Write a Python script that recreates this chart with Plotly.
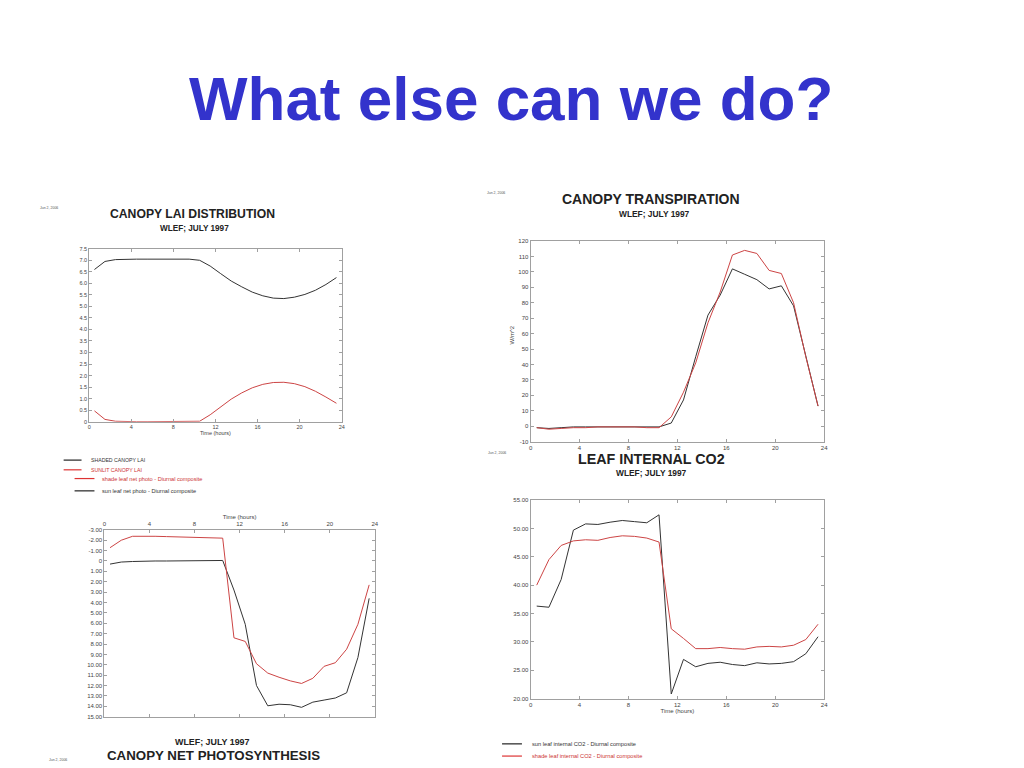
import plotly.graph_objects as go

W, H = 1024, 768

# ---------------- data ----------------
hours = [0.5, 1.5, 2.5, 3.5, 4.5, 5.5, 6.5, 7.5, 8.5, 9.5, 10.5, 11.5,
         12.5, 13.5, 14.5, 15.5, 16.5, 17.5, 18.5, 19.5, 20.5, 21.5, 22.5, 23.5]

lai_shaded = [6.60, 6.95, 7.03, 7.05, 7.05, 7.05, 7.05, 7.05, 7.05, 7.05, 7.00, 6.75,
              6.42, 6.10, 5.85, 5.62, 5.46, 5.36, 5.34, 5.40, 5.52, 5.70, 5.95, 6.25]
lai_sunlit = [0.47, 0.10, 0.02, 0.00, 0.00, 0.00, 0.00, 0.00, 0.00, 0.00, 0.02, 0.30,
              0.65, 0.98, 1.25, 1.47, 1.62, 1.70, 1.71, 1.65, 1.52, 1.32, 1.07, 0.80]

transp_black = [-1.0, -1.5, -1.0, -0.5, -0.5, -0.5, -0.5, -0.5, -0.5, -0.5, -0.5, 2.0,
                17.0, 45.0, 72.0, 85.0, 102.0, 98.5, 95.0, 89.0, 91.0, 78.0, 45.0, 13.0]
transp_red = [-1.0, -2.0, -1.5, -1.0, -1.0, -0.5, -0.5, -0.5, -0.5, -1.0, -1.0, 6.0,
              22.0, 41.0, 67.0, 87.0, 111.0, 114.0, 112.0, 101.0, 99.0, 80.0, 45.0, 13.0]

co2_sun = [36.3, 36.1, 41.0, 49.7, 50.8, 50.7, 51.1, 51.4, 51.2, 51.0, 52.4, 20.8,
           26.9, 25.6, 26.2, 26.4, 26.0, 25.8, 26.3, 26.1, 26.2, 26.5, 27.9, 30.9]
co2_shade = [40.0, 44.5, 47.0, 47.8, 48.0, 47.9, 48.4, 48.7, 48.6, 48.3, 47.6, 32.3,
             30.6, 28.8, 28.8, 29.0, 28.8, 28.7, 29.1, 29.2, 29.1, 29.4, 30.4, 33.1]

photo_sun = [0.3, 0.1, 0.05, 0.0, 0.0, 0.0, 0.0, 0.0, 0.0, 0.0, -0.05, 2.8,
             6.1, 12.0, 13.95, 13.8, 13.85, 14.1, 13.6, 13.4, 13.2, 12.7, 9.3, 3.6]
photo_shade = [-1.28, -2.0, -2.38, -2.4, -2.38, -2.35, -2.32, -2.3, -2.27, -2.24, -2.2, 7.4,
               7.75, 9.9, 10.8, 11.2, 11.55, 11.8, 11.3, 10.15, 9.8, 8.5, 6.1, 2.3]

x_ticks = [0, 4, 8, 12, 16, 20, 24]
x_labels = ["0", "4", "8", "12", "16", "20", "24"]
lai_ticks = [0, 0.5, 1.0, 1.5, 2.0, 2.5, 3.0, 3.5, 4.0, 4.5, 5.0, 5.5, 6.0, 6.5, 7.0, 7.5]
lai_labels = ["0", "0.5", "1.0", "1.5", "2.0", "2.5", "3.0", "3.5", "4.0", "4.5",
              "5.0", "5.5", "6.0", "6.5", "7.0", "7.5"]
tr_ticks = [-10, 0, 10, 20, 30, 40, 50, 60, 70, 80, 90, 100, 110, 120]
tr_labels = ["-10", "0", "10", "20", "30", "40", "50", "60", "70", "80", "90",
             "100", "110", "120"]
co2_ticks = [20, 25, 30, 35, 40, 45, 50, 55]
co2_labels = ["20.00", "25.00", "30.00", "35.00", "40.00", "45.00", "50.00", "55.00"]
ph_ticks = [-3, -2, -1, 0, 1, 2, 3, 4, 5, 6, 7, 8, 9, 10, 11, 12, 13, 14, 15]
ph_labels = ["-3.00", "-2.00", "-1.00", "0", "1.00", "2.00", "3.00", "4.00", "5.00",
             "6.00", "7.00", "8.00", "9.00", "10.00", "11.00", "12.00", "13.00",
             "14.00", "15.00"]

BLACK = "#333333"
RED = "#cc4444"
FONT = "Liberation Sans, Arial, sans-serif"


def fx(px):
    return px / W


def fy(py):
    return 1 - py / H


def axis(dom, rng, tv, tt, size, **kw):
    d = dict(domain=dom, range=rng, tickvals=tv, ticktext=tt,
             showline=True, linecolor="#a0a0a0", linewidth=1, mirror="ticks",
             ticks="inside", ticklen=3, tickwidth=1, tickcolor="#a0a0a0",
             showgrid=False, zeroline=False, fixedrange=True,
             tickfont=dict(family=FONT, size=size, color="#444444"))
    d.update(kw)
    return d


fig = go.Figure()


def line(x, y, color, xa, ya, name):
    fig.add_trace(go.Scatter(x=x, y=y, mode="lines", name=name,
                             line=dict(color=color, width=1),
                             xaxis=xa, yaxis=ya, showlegend=False, hoverinfo="skip"))


line(hours, lai_shaded, BLACK, "x", "y", "SHADED CANOPY LAI")
line(hours, lai_sunlit, RED, "x", "y", "SUNLIT CANOPY LAI")
line(hours, transp_black, BLACK, "x2", "y2", "transpiration (black)")
line(hours, transp_red, RED, "x2", "y2", "transpiration (red)")
line(hours, co2_sun, BLACK, "x3", "y3", "sun leaf internal CO2 - Diurnal composite")
line(hours, co2_shade, RED, "x3", "y3", "shade leaf internal CO2 - Diurnal composite")
line(hours, photo_sun, BLACK, "x4", "y4", "sun leaf net photo - Diurnal composite")
line(hours, photo_shade, RED, "x4", "y4", "shade leaf net photo - Diurnal composite")

# panel pixel boxes
p1 = (87.7, 341.7, 247.7, 422.0)
p2 = (531.7, 827.0, 240.0, 442.0)
p3 = (531.7, 827.0, 501.0, 701.0)
p4 = (103.0, 375.0, 531.0, 719.3)

fig.update_layout(
    width=W, height=H, margin=dict(l=0, r=0, t=0, b=0),
    paper_bgcolor="white", plot_bgcolor="white", showlegend=False,
    xaxis=axis([fx(p1[0]), fx(p1[1])], [0, 24], x_ticks, x_labels, 5.5,
               anchor="y", title=dict(text="Time (hours)", standoff=1,
                                      font=dict(family=FONT, size=5.5, color="#444"))),
    yaxis=axis([fy(p1[3]), fy(p1[2])], [0, 7.5], lai_ticks, lai_labels, 5.5, anchor="x"),
    xaxis2=axis([fx(p2[0]), fx(p2[1])], [0, 24], x_ticks, x_labels, 6, anchor="y2"),
    yaxis2=axis([fy(p2[3]), fy(p2[2])], [-10, 120], tr_ticks, tr_labels, 6, anchor="x2"),
    xaxis3=axis([fx(p3[0]), fx(p3[1])], [0, 24], x_ticks, x_labels, 6,
                anchor="y3", title=dict(text="Time (hours)", standoff=1,
                                        font=dict(family=FONT, size=6, color="#444"))),
    yaxis3=axis([fy(p3[3]), fy(p3[2])], [20, 55], co2_ticks, co2_labels, 6, anchor="x3"),
    xaxis4=axis([fx(p4[0]), fx(p4[1])], [0, 24], x_ticks, x_labels, 6,
                anchor="y4", side="top", title=dict(text="Time (hours)", standoff=1,
                                                     font=dict(family=FONT, size=6, color="#444"))),
    yaxis4=axis([fy(p4[3]), fy(p4[2])], [15, -3], ph_ticks, ph_labels, 6, anchor="x4"),
)

ann = []


def text(x, y, s, size, color="#222222", bold=False, xanchor="center", angle=0):
    ann.append(dict(x=fx(x), y=fy(y), xref="paper", yref="paper", text=("<b>%s</b>" % s) if bold else s,
                    showarrow=False, xanchor=xanchor, yanchor="middle", textangle=angle,
                    font=dict(family=FONT, size=size, color=color)))


# slide title
text(512, 96, "What else can we do?", 62, color="#3333CC", bold=True)

# panel titles
text(192, 213, "CANOPY LAI DISTRIBUTION", 12.2, bold=True)
text(194, 227, "WLEF; JULY 1997", 8.2, bold=True)
text(36, 207, "Jun 2, 2006", 3.5, color="#555", xanchor="left")

text(653, 198, "CANOPY TRANSPIRATION", 14, bold=True)
text(656, 213, "WLEF; JULY 1997", 8.4, bold=True)
text(486, 191, "Jun 2, 2006", 3.5, color="#555", xanchor="left")
text(513, 334, "W/m^2", 6, color="#444", angle=-90)

text(653, 460, "LEAF INTERNAL CO2", 14.3, bold=True)
text(653, 474, "WLEF; JULY 1997", 8.4, bold=True)
text(487, 454, "Jun 2, 2006", 3.5, color="#555", xanchor="left")

text(212, 745, "WLEF; JULY 1997", 8.9, bold=True)
text(213, 758, "CANOPY NET PHOTOSYNTHESIS", 13.3, bold=True)
text(45, 763, "Jun 2, 2006", 3.5, color="#555", xanchor="left")

# legends
shapes = []


def key(x0, x1, y, color):
    shapes.append(dict(type="line", xref="paper", yref="paper", x0=fx(x0), x1=fx(x1),
                       y0=fy(y), y1=fy(y), line=dict(color=color, width=1.2)))


key(62, 80, 460.7, "#222222")
text(88, 460.7, "SHADED CANOPY LAI", 5.2, color="#333", xanchor="left")
key(62, 80, 470.5, "#dd3333")
text(88, 470.5, "SUNLIT CANOPY LAI", 5.2, color="#cc3333", xanchor="left")
key(73, 93, 479.3, "#dd3333")
text(99, 479.3, "shade leaf net photo - Diurnal composite", 5.6, color="#cc3333", xanchor="left")
key(73, 93, 491.7, "#222222")
text(99, 491.7, "sun leaf net photo - Diurnal composite", 5.6, color="#333", xanchor="left")

key(503, 523, 746.7, "#222222")
text(531.5, 746.7, "sun leaf internal CO2 - Diurnal composite", 5.7, color="#333", xanchor="left")
key(503, 523, 759, "#dd3333")
text(531.5, 759, "shade leaf internal CO2 - Diurnal composite", 5.7, color="#cc3333", xanchor="left")

fig.update_layout(annotations=ann, shapes=shapes)

fig.write_html("out.html", config={"displayModeBar": False},
               post_script="document.body.style.margin='0px';document.body.style.overflow='hidden';")
